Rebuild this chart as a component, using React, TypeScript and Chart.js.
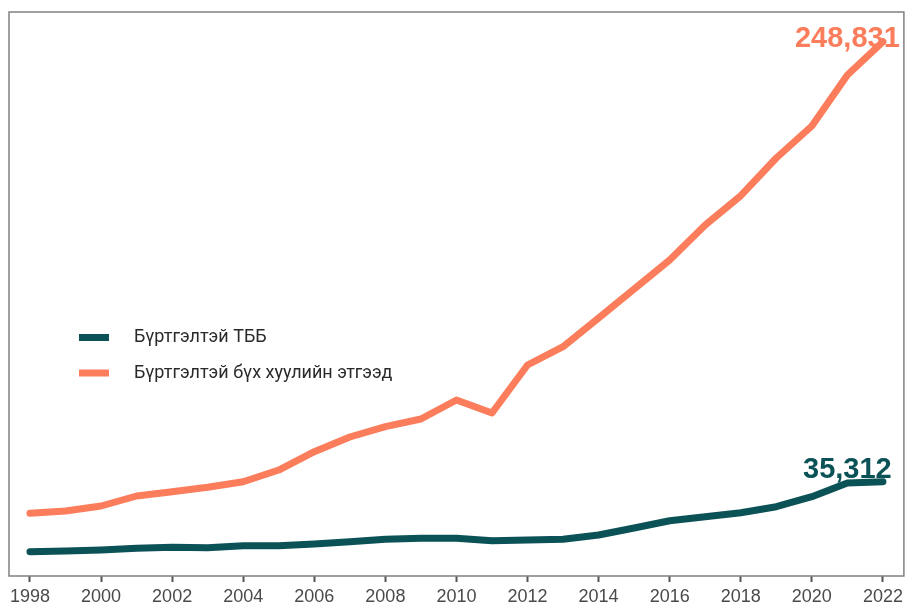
import { useEffect, useRef } from 'react';
import { Chart, registerables } from 'chart.js';

Chart.register(...registerables);

const years = [1998, 1999, 2000, 2001, 2002, 2003, 2004, 2005, 2006, 2007, 2008, 2009, 2010, 2011, 2012, 2013, 2014, 2015, 2016, 2017, 2018, 2019, 2020, 2021, 2022];
const ngoCounts = [1360, 1700, 2180, 3010, 3490, 3300, 4270, 4270, 5100, 6210, 7380, 7860, 7860, 6700, 7040, 7380, 9460, 12860, 16400, 18340, 20280, 23200, 28050, 34700, 35312];
const allEntities = [19990, 21110, 23540, 28390, 30480, 32610, 35330, 41000, 49890, 57020, 62020, 65750, 74970, 68670, 91960, 100840, 114770, 128840, 142910, 159900, 174120, 192410, 207940, 232690, 248831];
const tickYears = [1998, 2000, 2002, 2004, 2006, 2008, 2010, 2012, 2014, 2016, 2018, 2020, 2022];
const seriesLabels = ['Бүртгэлтэй ТББ', 'Бүртгэлтэй бүх хуулийн этгээд'];
const endLabels = ['35,312', '248,831'];
const seriesColors = ['#0b5256', '#fb7d5b'];

const framePlugin = {
  id: 'frame',
  beforeDatasetsDraw(chart: any) {
    const { ctx, chartArea } = chart;
    ctx.save();
    ctx.strokeStyle = '#808080';
    ctx.lineWidth = 1.5;
    ctx.strokeRect(chartArea.left, chartArea.top, chartArea.right - chartArea.left, chartArea.bottom - chartArea.top);
    ctx.restore();
  },
};

const endLabelPlugin = {
  id: 'endLabels',
  beforeDatasetsDraw(chart: any) {
    const { ctx } = chart;
    const xs = chart.scales.x;
    const ys = chart.scales.y;
    const offsets = [-4, 5];
    ctx.save();
    ctx.font = 'bold 29px "Liberation Sans", Arial, sans-serif';
    ctx.textAlign = 'center';
    ctx.textBaseline = 'alphabetic';
    chart.data.datasets.forEach((ds: any, i: number) => {
      const last = ds.data[ds.data.length - 1];
      const x = xs.getPixelForValue(2021);
      const y = ys.getPixelForValue(last.y) + offsets[i];
      ctx.fillStyle = seriesColors[i];
      ctx.fillText(endLabels[i], x, y);
    });
    ctx.restore();
  },
};

const legendPlugin = {
  id: 'innerLegend',
  afterDraw(chart: any) {
    const { ctx } = chart;
    const rows = [337.5, 373];
    ctx.save();
    ctx.font = '18px Roboto, "Liberation Sans", sans-serif';
    ctx.textBaseline = 'middle';
    ctx.textAlign = 'left';
    chart.data.datasets.forEach((ds: any, i: number) => {
      const y = rows[i];
      ctx.strokeStyle = seriesColors[i];
      ctx.lineWidth = 7;
      ctx.lineCap = 'butt';
      ctx.beginPath();
      ctx.moveTo(79, y);
      ctx.lineTo(109, y);
      ctx.stroke();
      ctx.fillStyle = '#2a2a2a';
      ctx.fillText(ds.label, 134, y);
    });
    ctx.restore();
  },
};

export default function App() {
  const ref = useRef<HTMLCanvasElement | null>(null);

  useEffect(() => {
    if (!ref.current) return;
    const chart = new Chart(ref.current, {
      type: 'line',
      data: {
        datasets: [
          {
            label: seriesLabels[0],
            data: years.map((y, i) => ({ x: y, y: ngoCounts[i] })),
            borderColor: seriesColors[0],
            backgroundColor: seriesColors[0],
            borderWidth: 7,
            pointRadius: 0,
            borderJoinStyle: 'round',
            borderCapStyle: 'round',
            tension: 0,
          },
          {
            label: seriesLabels[1],
            data: years.map((y, i) => ({ x: y, y: allEntities[i] })),
            borderColor: seriesColors[1],
            backgroundColor: seriesColors[1],
            borderWidth: 7,
            pointRadius: 0,
            borderJoinStyle: 'round',
            borderCapStyle: 'round',
            tension: 0,
          },
        ],
      },
      options: {
        animation: false,
        responsive: false,
        layout: { padding: { left: 9, top: 12, right: 2, bottom: 0 } },
        plugins: {
          legend: { display: false },
          tooltip: { enabled: false },
        },
        scales: {
          x: {
            type: 'linear',
            min: 1997.41,
            max: 2022.59,
            offset: false,
            afterBuildTicks: (axis: any) => {
              axis.ticks = tickYears.map((v) => ({ value: v }));
            },
            afterFit: (axis: any) => {
              axis.height = 27;
            },
            ticks: {
              autoSkip: false,
              maxRotation: 0,
              padding: 4,
              color: '#4a4a4a',
              font: { family: '"Liberation Sans", Arial, sans-serif', size: 18 },
              callback: (v: any) => String(v),
            },
            grid: {
              drawOnChartArea: false,
              drawTicks: true,
              tickLength: 6,
              tickWidth: 2,
              tickColor: '#555555',
            },
            border: { display: false },
          },
          y: {
            display: false,
            min: -10430,
            max: 263260,
          },
        },
      },
      plugins: [framePlugin, endLabelPlugin, legendPlugin],
    });
    return () => chart.destroy();
  }, []);

  return (
    <div style={{ position: 'absolute', left: 0, top: 0, width: 907, height: 603, background: '#fff' }}>
      <canvas ref={ref} width={907} height={603} style={{ display: 'block' }} />
    </div>
  );
}
